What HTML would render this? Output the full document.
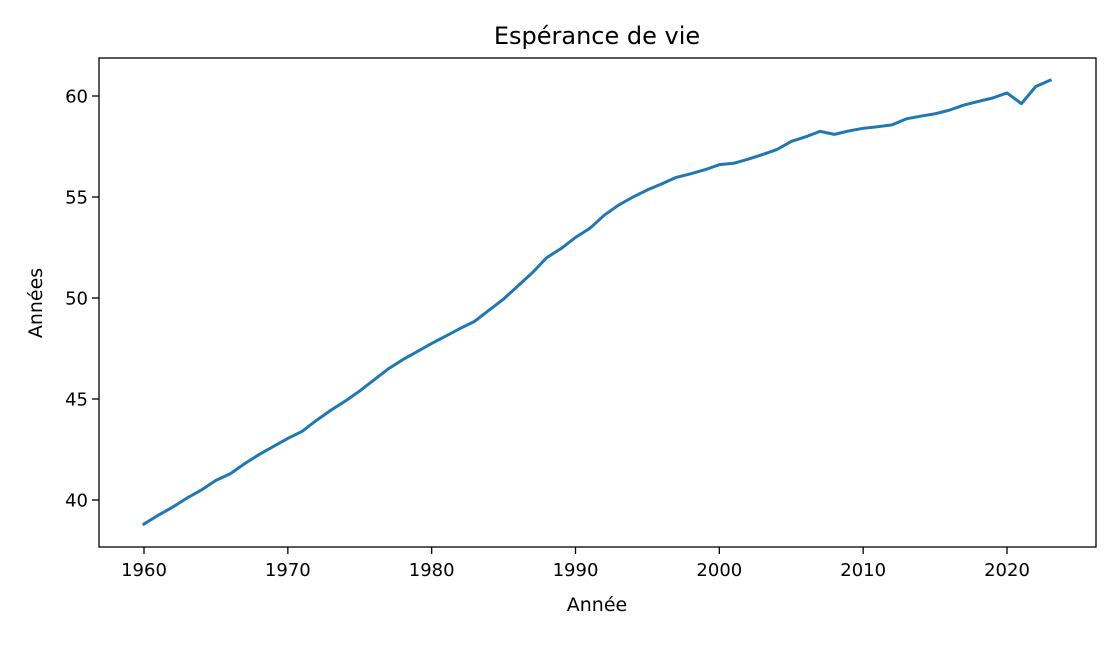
<!DOCTYPE html>
<html><head><meta charset="utf-8"><style>
body{margin:0;background:#fff;width:1120px;height:640px;overflow:hidden}
text{font-family:"DejaVu Sans","Liberation Sans",sans-serif;fill:#000}
</style></head><body>
<svg id="chart" width="1120" height="640" xmlns="http://www.w3.org/2000/svg">
<rect width="1120" height="640" fill="#fff"/>
<text x="597" y="44" font-size="24" text-anchor="middle">Espérance de vie</text>
<text x="597" y="611" font-size="19" text-anchor="middle">Année</text>
<text transform="translate(42,303) rotate(-90)" font-size="19" text-anchor="middle">Années</text>
<g id="marks"></g>
<rect x="99" y="58" width="997" height="489" fill="none" stroke="#000" stroke-width="1.3"/>
</svg>
<script>
const years=[];for(let y=1960;y<=2023;y++)years.push(y);
const values=[38.81,39.25,39.65,40.1,40.5,40.97,41.3,41.8,42.25,42.65,43.05,43.4,43.95,44.45,44.9,45.4,45.95,46.5,46.95,47.35,47.75,48.12,48.5,48.85,49.4,49.95,50.6,51.25,52.0,52.45,53.0,53.45,54.1,54.6,55.0,55.35,55.65,55.97,56.15,56.35,56.6,56.67,56.87,57.1,57.35,57.75,57.98,58.25,58.1,58.27,58.4,58.48,58.57,58.87,59.0,59.12,59.3,59.55,59.73,59.9,60.15,59.62,60.47,60.78];
const xTicks=[1960,1970,1980,1990,2000,2010,2020];
const yTicks=[40,45,50,55,60];
const NS="http://www.w3.org/2000/svg";
const sx=v=>144+(v-1960)*(1007-144)/60;
const sy=v=>500-(v-40)*(500-96)/20;
const g=document.getElementById('marks');
function mk(t,a){const e=document.createElementNS(NS,t);for(const k in a)e.setAttribute(k,a[k]);g.appendChild(e);return e;}
xTicks.forEach(t=>{
 const l=mk('line',{x1:sx(t),x2:sx(t),y1:547,y2:554,stroke:'#000','stroke-width':1.3});
 
 
 const tx=mk('text',{x:sx(t),y:576,'font-size':18,'text-anchor':'middle'});tx.textContent=t;
 
 
});
yTicks.forEach(t=>{
 const l=mk('line',{x1:92,x2:99,y1:sy(t),y2:sy(t),stroke:'#000','stroke-width':1.3});
 
 
 const tx=mk('text',{x:88,y:sy(t)+6.5,'font-size':18,'text-anchor':'end'});tx.textContent=t;
 
 
});
const p=mk('polyline',{points:years.map((y,i)=>sx(y)+','+sy(values[i])).join(' '),fill:'none',stroke:'#1f77b4','stroke-width':3,'stroke-linejoin':'round','stroke-linecap':'square'});


</script>
</body></html>
